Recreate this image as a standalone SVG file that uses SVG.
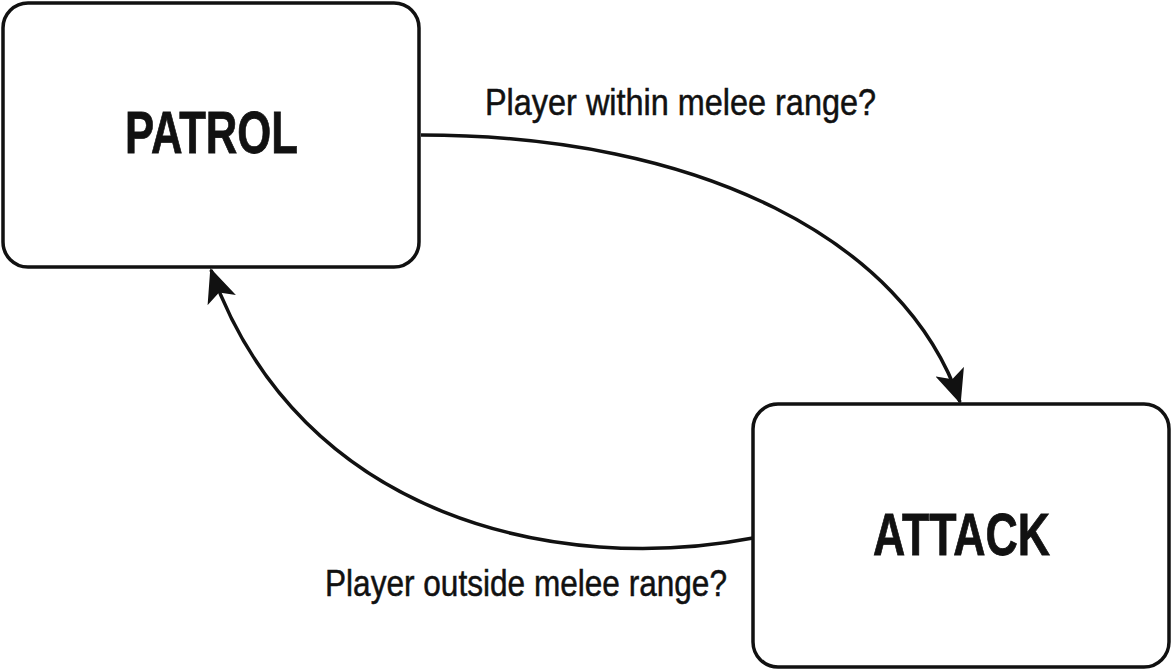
<svg xmlns="http://www.w3.org/2000/svg" width="1175" height="671" viewBox="0 0 1175 671">
<style>
.box{fill:#fff;stroke:#111;stroke-width:3.5}
.title{font-family:"Liberation Sans",Arial,sans-serif;font-weight:bold;font-size:59px;fill:#111;stroke:#111;stroke-width:0.8}
.lbl{font-family:"Liberation Sans",Arial,sans-serif;font-size:36px;fill:#111;stroke:#111;stroke-width:0.5}
.edge{fill:none;stroke:#111;stroke-width:3.5}
</style>
<defs>
<marker id="ah" markerUnits="userSpaceOnUse" markerWidth="34" markerHeight="30" viewBox="0 0 34 30" refX="32" refY="15" orient="auto">
<path d="M0,0 L34,15 L0,30 L8,15 z" fill="#111"/>
</marker>
</defs>
<rect width="1175" height="671" fill="#fff"/>
<g id="connectors">
<path class="edge" d="M421,135 C 700,135 905,240 960,402" marker-end="url(#ah)"/>
<path class="edge" d="M753,538 C 560,575 300,520 211,270" marker-end="url(#ah)"/>
<text class="lbl" x="485" y="115" textLength="391" lengthAdjust="spacingAndGlyphs">Player within melee range?</text>
<text class="lbl" x="325" y="596" textLength="402" lengthAdjust="spacingAndGlyphs">Player outside melee range?</text>
</g>
<g id="patrol">
<rect class="box" x="3" y="3" width="416" height="264" rx="25"/>
<text class="title" x="125" y="153" textLength="173" lengthAdjust="spacingAndGlyphs">PATROL</text>
</g>
<g id="attack">
<rect class="box" x="753" y="404" width="416" height="263" rx="25"/>
<text class="title" x="873" y="555" textLength="177" lengthAdjust="spacingAndGlyphs">ATTACK</text>
</g>
</svg>
